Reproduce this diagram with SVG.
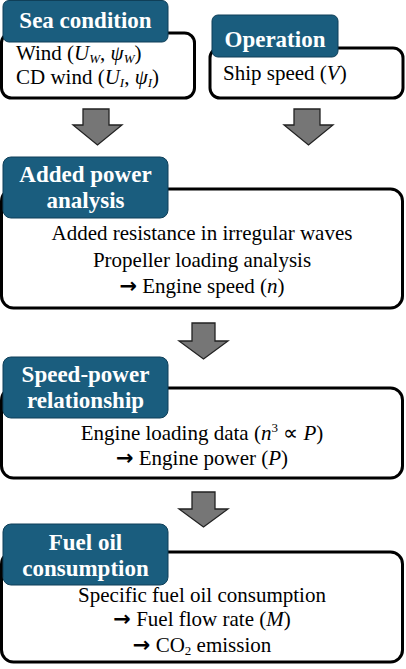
<svg xmlns="http://www.w3.org/2000/svg" width="406" height="669" viewBox="0 0 406 669">
<style>
.box{fill:#fff;stroke:#000;stroke-width:3}
.lab{fill:#1a5d7e;stroke:#0f3f58;stroke-width:1}
text{font-family:'Liberation Serif','Times New Roman',serif}
.lt{font-weight:bold;font-size:23px;fill:#fff;text-anchor:middle}
.bt{font-size:21px;fill:#000}
.c{text-anchor:middle}
.m{font-style:italic}
.s{font-size:13px}
.ar{font-family:'DejaVu Sans',sans-serif;font-weight:bold;font-size:21px}
.arr{fill:#767676;stroke:#222;stroke-width:1.3}
</style>
<rect width="406" height="669" fill="#fff"/>
<g id="connectors">
<polygon class="arr" points="83,109 109,109 109,125 122,125 97.5,145 73,125 83,125"/>
<polygon class="arr" points="294,109 320,109 320,125 333,125 308.5,145 284,125 294,125"/>
<polygon class="arr" points="192,323 215,323 215,341 228,341 203.5,359 179,341 192,341"/>
<polygon class="arr" points="192,492 215,492 215,509 228,509 203.5,527 179,509 192,509"/>
</g>
<g id="sea-condition">
<rect class="box" x="1.5" y="33" width="193" height="65" rx="10"/>
<rect class="lab" x="3" y="0.5" width="165" height="41.5" rx="6"/>
<text class="lt" x="85.5" y="28">Sea condition</text>
<text class="bt" x="16" y="60">Wind (<tspan class="m">U</tspan><tspan class="m s" dy="3">W</tspan><tspan dy="-3">, </tspan><tspan class="m">ψ</tspan><tspan class="m s" dy="3">W</tspan><tspan dy="-3">)</tspan></text>
<text class="bt" x="16" y="84">CD wind (<tspan class="m">U</tspan><tspan class="m s" dy="3">I</tspan><tspan dy="-3">, </tspan><tspan class="m">ψ</tspan><tspan class="m s" dy="3">I</tspan><tspan dy="-3">)</tspan></text>
</g>
<g id="operation">
<rect class="box" x="210" y="48" width="193" height="50" rx="10"/>
<rect class="lab" x="212" y="15" width="126" height="42" rx="6"/>
<text class="lt" x="275" y="47">Operation</text>
<text class="bt" x="223" y="80">Ship speed (<tspan class="m">V</tspan>)</text>
</g>
<g id="added-power">
<rect class="box" x="1.5" y="189" width="401" height="119" rx="12"/>
<rect class="lab" x="3" y="157" width="165" height="61" rx="8"/>
<text class="lt" x="85.5" y="182">Added power</text>
<text class="lt" x="85.5" y="208">analysis</text>
<text class="bt c" x="202" y="240">Added resistance in irregular waves</text>
<text class="bt c" x="202" y="267">Propeller loading analysis</text>
<text class="bt c" x="202" y="293"><tspan class="ar">→</tspan> Engine speed (<tspan class="m">n</tspan>)</text>
</g>
<g id="speed-power">
<rect class="box" x="1.5" y="388" width="401" height="90" rx="12"/>
<rect class="lab" x="3" y="357" width="165" height="61" rx="8"/>
<text class="lt" x="85.5" y="382">Speed-power</text>
<text class="lt" x="85.5" y="408">relationship</text>
<text class="bt c" x="202" y="440">Engine loading data (<tspan class="m">n</tspan><tspan class="s" dy="-8">3</tspan><tspan dy="8"> ∝ </tspan><tspan class="m">P</tspan>)</text>
<text class="bt c" x="202" y="465"><tspan class="ar">→</tspan> Engine power (<tspan class="m">P</tspan>)</text>
</g>
<g id="fuel-oil">
<rect class="box" x="1.5" y="552" width="401" height="110" rx="12"/>
<rect class="lab" x="3" y="524" width="165" height="61" rx="8"/>
<text class="lt" x="85.5" y="550">Fuel oil</text>
<text class="lt" x="85.5" y="576">consumption</text>
<text class="bt c" x="202" y="602">Specific fuel oil consumption</text>
<text class="bt c" x="202" y="626"><tspan class="ar">→</tspan> Fuel flow rate (<tspan class="m">M</tspan>)</text>
<text class="bt c" x="202" y="652"><tspan class="ar">→</tspan> CO<tspan class="s" dy="3">2</tspan><tspan dy="-3"> emission</tspan></text>
</g>
</svg>
